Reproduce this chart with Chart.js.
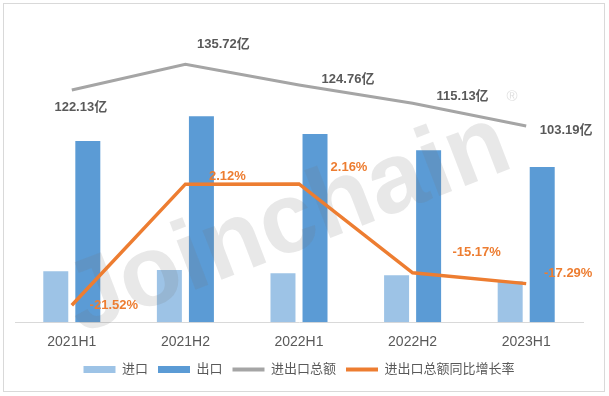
<!DOCTYPE html>
<html>
<head>
<meta charset="utf-8">
<script src="https://cdn.jsdelivr.net/npm/chart.js@4/dist/chart.umd.min.js"></script>
<style>
  html, body { margin: 0; padding: 0; background: #fff; }
  #wrap { position: relative; width: 609px; height: 396px; }
  #frame { position: absolute; left: 3px; top: 3px; width: 600px; height: 387px; border: 1px solid #d9d9d9; pointer-events: none; }
</style>
</head>
<body>
<div id="wrap">
  <canvas id="grafico" width="609" height="396"></canvas>
  <div id="frame"></div>
</div>
<script>
// dados
const categorias = ["2021H1", "2021H2", "2022H1", "2022H2", "2023H1"];
const importacao = [26.8, 27.4, 25.8, 24.7, 21.6];
const exportacao = [95.3, 108.3, 99.0, 90.4, 81.6];
const totalGeral = [122.13, 135.72, 124.76, 115.13, 103.19];
const crescimento = [-21.52, 2.12, 2.16, -15.17, -17.29];

const fonteTexto = "'Liberation Sans', 'Noto Sans CJK SC', sans-serif";

// deslocamento dos rótulos (px) em relação ao ponto
const offTotal = [[9, 17], [38, -20], [49, -6], [50, -7], [40, 4]];
const offCresc = [[42, 0], [42, -8], [50, -17], [64, -20], [42, -10]];

// rótulos de dados
const rotulos = {
  id: 'rotulos',
  afterDatasetsDraw(chart) {
    const ctx = chart.ctx;
    ctx.save();
    ctx.textAlign = 'center';
    ctx.textBaseline = 'middle';
    ctx.font = "bold 13px " + fonteTexto;
    chart.getDatasetMeta(2).data.forEach((p, i) => {
      ctx.fillStyle = '#595959';
      ctx.fillText(totalGeral[i].toFixed(2) + '亿', p.x + offTotal[i][0], p.y + offTotal[i][1]);
    });
    chart.getDatasetMeta(3).data.forEach((p, i) => {
      ctx.fillStyle = '#ED7D31';
      ctx.fillText(crescimento[i].toFixed(2) + '%', p.x + offCresc[i][0], p.y + offCresc[i][1]);
    });
    ctx.restore();
  }
};

// marca d'água sobre as barras
let barrasDesenhadas = 0;
const marcaDagua = {
  id: 'marcaDagua',
  beforeDatasetsDraw() { barrasDesenhadas = 0; },
  afterDatasetDraw(chart, args) {
    if (args.meta.type !== 'bar') return;
    barrasDesenhadas++;
    if (barrasDesenhadas < 2) return;
    const ctx = chart.ctx;
    ctx.save();
    ctx.translate(80, 334);
    ctx.rotate(-21 * Math.PI / 180);
    ctx.font = "bold 100px " + fonteTexto;
    ctx.fillStyle = 'rgba(120,120,120,0.17)';
    ctx.textBaseline = 'alphabetic';
    ctx.fillText('Joinchain', 0, 0);
    ctx.restore();
    ctx.save();
    ctx.font = "15px " + fonteTexto;
    ctx.fillStyle = 'rgba(150,150,150,0.3)';
    ctx.textAlign = 'center';
    ctx.textBaseline = 'middle';
    ctx.fillText('®', 512, 97);
    ctx.restore();
  }
};

new Chart(document.getElementById("grafico"), {
  data: {
    labels: categorias,
    datasets: [
      {
        type: 'bar',
        label: '进口',
        data: importacao,
        backgroundColor: '#9DC3E6',
        borderWidth: 0,
        order: 1,
        yAxisID: 'y'
      },
      {
        type: 'bar',
        label: '出口',
        data: exportacao,
        backgroundColor: '#5B9BD5',
        borderWidth: 0,
        order: 1,
        yAxisID: 'y'
      },
      {
        type: 'line',
        label: '进出口总额',
        data: totalGeral,
        borderColor: '#A5A5A5',
        backgroundColor: '#A5A5A5',
        borderWidth: 3,
        pointRadius: 0,
        tension: 0,
        fill: false,
        order: 0,
        yAxisID: 'y'
      },
      {
        type: 'line',
        label: '进出口总额同比增长率',
        data: crescimento,
        borderColor: '#ED7D31',
        backgroundColor: '#ED7D31',
        borderWidth: 3.5,
        pointRadius: 0,
        tension: 0,
        fill: false,
        order: 0,
        yAxisID: 'y1'
      }
    ]
  },
  options: {
    responsive: false,
    animation: false,
    datasets: {
      bar: { categoryPercentage: 0.564, barPercentage: 0.78 }
    },
    layout: { padding: { left: 15, right: 26, top: 18, bottom: 10 } },
    plugins: {
      tooltip: { enabled: false },
      legend: {
        position: 'bottom',
        labels: {
          usePointStyle: true,
          pointStyleWidth: 32,
          boxHeight: 7,
          padding: 10,
          color: '#595959',
          font: { size: 13, family: fonteTexto },
          sort: (a, b) => a.datasetIndex - b.datasetIndex,
          generateLabels(chart) {
            const itens = Chart.defaults.plugins.legend.labels.generateLabels(chart);
            return itens.map(it => {
              const ds = chart.data.datasets[it.datasetIndex];
              if (ds.type === 'line') {
                it.pointStyle = 'line';
                it.lineWidth = 4;
                it.strokeStyle = ds.borderColor;
              } else {
                it.pointStyle = 'rect';
                it.lineWidth = 0;
                it.strokeStyle = ds.backgroundColor;
              }
              return it;
            });
          }
        }
      }
    },
    scales: {
      x: {
        grid: { display: false, drawTicks: false },
        border: { display: true, color: '#D9D9D9', width: 1 },
        ticks: { color: '#595959', padding: 12, font: { size: 14, family: fonteTexto } },
        afterFit(scale) { scale.height -= 10; }
      },
      y: {
        display: false,
        min: 0,
        max: 160
      },
      y1: {
        display: false,
        position: 'right',
        min: -24.82,
        max: 34.55
      }
    }
  },
  plugins: [marcaDagua, rotulos]
});
</script>
</body>
</html>
